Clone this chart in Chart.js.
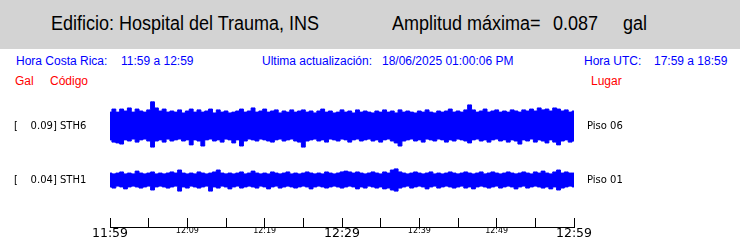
<!DOCTYPE html>
<html>
<head>
<meta charset="utf-8">
<script src="https://cdn.jsdelivr.net/npm/chart.js@4.4.0/dist/chart.umd.min.js"></script>
<style>
body { margin:0; background:#fff; width:740px; height:241px; overflow:hidden; position:relative; font-family:"Liberation Sans", Arial, sans-serif; }
#cabecera { position:absolute; left:0; top:0; width:740px; height:49px; background:#d3d3d3; }
.t { position:absolute; white-space:pre; line-height:20px; height:20px; }
.h { font-size:20px; color:#000; transform:scaleX(0.9); transform-origin:0 50%; top:13px; }
.a { font-size:12px; color:#0000ff; top:51px; }
.r { font-size:12px; color:#ff0000; top:71px; }
#myChart { position:absolute; left:0; top:0; }
</style>
</head>
<body>
<div id="cabecera"></div>
<div class="t h" style="left:51px">Edificio: Hospital del Trauma, INS</div>
<div class="t h" style="left:392px">Amplitud máxima=</div>
<div class="t h" style="left:553px">0.087</div>
<div class="t h" style="left:623px">gal</div>
<div class="t a" style="left:16px">Hora Costa Rica:</div>
<div class="t a" style="left:121px">11:59 a 12:59</div>
<div class="t a" style="left:262px">Ultima actualización:</div>
<div class="t a" style="left:382px">18/06/2025 01:00:06 PM</div>
<div class="t a" style="left:584px">Hora UTC:</div>
<div class="t a" style="left:654px">17:59 a 18:59</div>
<div class="t r" style="left:15px">Gal</div>
<div class="t r" style="left:50px">Código</div>
<div class="t r" style="left:591px">Lugar</div>
<canvas id="myChart" width="740" height="241"></canvas>
<script>
// estaciones, escala [gal] y lugar
var estaciones = ['STH6', 'STH1'];
var escalas = ['0.09', '0.04'];
var lugares = ['Piso 06', 'Piso 01'];

// etiquetas del eje de tiempo, una cada 5 minutos
var etiquetasTiempo = ['11:59', '', '12:09', '', '12:19', '', '12:29', '', '12:39', '', '12:49', '', '12:59'];

// envolvente de la senal cada 30 s (gal), arriba y abajo de la linea base
var sth6Sup = [
    .050,.061,.050,.061,.054,.065,.050,.061,.054,.050,
    .058,.087,.065,.054,.061,.050,.054,.050,.058,.047,
    .054,.061,.050,.058,.050,.054,.061,.047,.058,.050,
    .054,.047,.050,.054,.061,.050,.054,.065,.050,.054,
    .061,.050,.054,.058,.047,.054,.050,.058,.050,.054,
    .058,.050,.054,.047,.054,.061,.050,.054,.047,.050,
    .058,.050,.054,.047,.058,.050,.054,.050,.047,.054,
    .050,.058,.050,.054,.047,.058,.050,.054,.050,.047,
    .054,.050,.058,.050,.047,.054,.050,.054,.061,.050,
    .054,.050,.058,.076,.058,.050,.054,.061,.050,.054,
    .058,.050,.054,.050,.058,.054,.050,.058,.054,.061,
    .054,.065,.058,.061,.054,.065,.061,.054,.058,.050,
    .054];
var sth6Inf = [
    .050,.058,.061,.065,.050,.054,.047,.058,.050,.047,
    .054,.076,.054,.050,.058,.047,.054,.050,.047,.054,
    .050,.068,.050,.054,.072,.050,.047,.054,.050,.058,
    .047,.050,.061,.050,.072,.054,.047,.050,.054,.047,
    .050,.054,.058,.050,.047,.054,.050,.047,.054,.058,
    .076,.054,.050,.047,.054,.050,.058,.047,.050,.054,
    .047,.050,.058,.050,.047,.054,.050,.047,.054,.050,
    .058,.050,.047,.054,.061,.072,.054,.050,.047,.054,
    .050,.058,.047,.050,.054,.047,.050,.058,.050,.054,
    .047,.050,.054,.061,.050,.047,.054,.050,.058,.050,
    .047,.054,.050,.058,.050,.054,.065,.050,.054,.047,
    .058,.050,.054,.061,.050,.058,.068,.054,.050,.058,
    .054];
var sth1Sup = [
    .025,.022,.025,.029,.022,.025,.022,.032,.025,.022,
    .025,.029,.022,.025,.022,.025,.029,.025,.036,.025,
    .022,.025,.022,.029,.025,.022,.025,.029,.036,.025,
    .022,.025,.022,.025,.029,.022,.025,.032,.025,.022,
    .025,.022,.029,.025,.022,.025,.029,.022,.025,.022,
    .025,.029,.025,.022,.025,.022,.029,.025,.022,.025,
    .029,.032,.029,.025,.029,.025,.022,.025,.029,.025,
    .022,.029,.025,.036,.040,.029,.025,.022,.025,.029,
    .025,.022,.025,.029,.022,.025,.022,.025,.029,.025,
    .022,.025,.029,.025,.022,.025,.029,.022,.025,.029,
    .025,.022,.025,.029,.025,.022,.025,.029,.025,.022,
    .029,.025,.032,.025,.022,.029,.036,.025,.029,.025,
    .025];
var sth1Inf = [
    .025,.029,.022,.025,.032,.025,.022,.025,.029,.025,
    .022,.036,.025,.022,.025,.029,.025,.022,.040,.025,
    .029,.022,.025,.029,.025,.022,.040,.025,.029,.022,
    .025,.032,.025,.022,.029,.025,.022,.025,.029,.022,
    .025,.032,.025,.022,.029,.025,.022,.025,.029,.025,
    .022,.025,.032,.025,.022,.025,.029,.025,.022,.025,
    .029,.025,.022,.025,.032,.025,.029,.022,.025,.029,
    .025,.032,.029,.036,.040,.029,.025,.022,.029,.025,
    .022,.025,.032,.025,.022,.029,.025,.022,.025,.029,
    .025,.022,.029,.025,.032,.025,.022,.025,.029,.025,
    .022,.029,.025,.022,.025,.032,.025,.022,.029,.025,
    .022,.025,.029,.025,.032,.025,.036,.029,.025,.022,
    .025];

var AZUL = '#0000ff';
var desplaz = [0.1944, 0]; // linea base de cada traza

function serie(valores, base, signo) {
    return valores.map(function(v, i) { return { x: i * 0.5, y: base + signo * v }; });
}

function traza(valores, base, signo, relleno) {
    return {
        data: serie(valores, base, signo),
        borderColor: AZUL,
        backgroundColor: AZUL,
        borderWidth: 1,
        pointRadius: 0,
        stepped: 'middle',
        fill: relleno
    };
}

// los ejes de estaciones no deben empujar el area del grafico
function sinRelleno(s) {
    s.paddingTop = 0;
    s.paddingBottom = 0;
}

window.onload = function() {
    var ctx = document.getElementById('myChart').getContext('2d');

    window.myChart = new Chart(ctx, {
        type: 'line',
        data: {
            datasets: [
                traza(sth6Sup, desplaz[0], 1, '+1'),
                traza(sth6Inf, desplaz[0], -1, false),
                traza(sth1Sup, desplaz[1], 1, '+1'),
                traza(sth1Inf, desplaz[1], -1, false)
            ]
        },
        options: {
            responsive: false,
            animation: false,
            layout: { padding: { top: 90, left: 14, right: 0, bottom: 0 } },
            plugins: { legend: { display: false }, tooltip: { enabled: false } },
            scales: {
                x: {
                    type: 'linear',
                    min: 0,
                    max: 60,
                    afterFit: function(s) { s.height = 14; },
                    border: { display: true, color: '#000', width: 1 },
                    grid: { drawOnChartArea: false, color: '#000', tickLength: -9, tickWidth: 1 },
                    ticks: {
                        stepSize: 5,
                        autoSkip: false,
                        maxRotation: 0,
                        padding: 8.5,
                        color: '#000',
                        font: function(c) {
                            var grande = c.tick && c.tick.value % 30 === 0;
                            return { family: 'DejaVu Sans', size: grande ? 12.5 : 8, lineHeight: 1.2 };
                        },
                        callback: function(value) { return etiquetasTiempo[Math.round(value / 5)]; }
                    }
                },
                y: {
                    position: 'left',
                    min: -0.1692,
                    max: 0.324,
                    afterFit: function(s) { s.width = 96; sinRelleno(s); },
                    afterBuildTicks: function(s) { s.ticks = desplaz.map(function(v) { return { value: v }; }); },
                    border: { display: false },
                    grid: { display: false, drawTicks: false },
                    ticks: {
                        crossAlign: 'far',
                        color: '#000',
                        font: { family: 'DejaVu Sans', size: 10 },
                        callback: function(value, i) { return '[    ' + escalas[i] + '] ' + estaciones[i]; }
                    }
                },
                y2: {
                    position: 'right',
                    min: -0.1692,
                    max: 0.324,
                    afterFit: function(s) { s.width = 166; sinRelleno(s); },
                    afterBuildTicks: function(s) { s.ticks = desplaz.map(function(v) { return { value: v }; }); },
                    border: { display: false },
                    grid: { display: false, drawTicks: false },
                    ticks: {
                        padding: 13,
                        color: '#000',
                        font: { family: 'DejaVu Sans', size: 10 },
                        callback: function(value, i) { return lugares[i]; }
                    }
                }
            }
        }
    });
};
</script>
</body>
</html>
